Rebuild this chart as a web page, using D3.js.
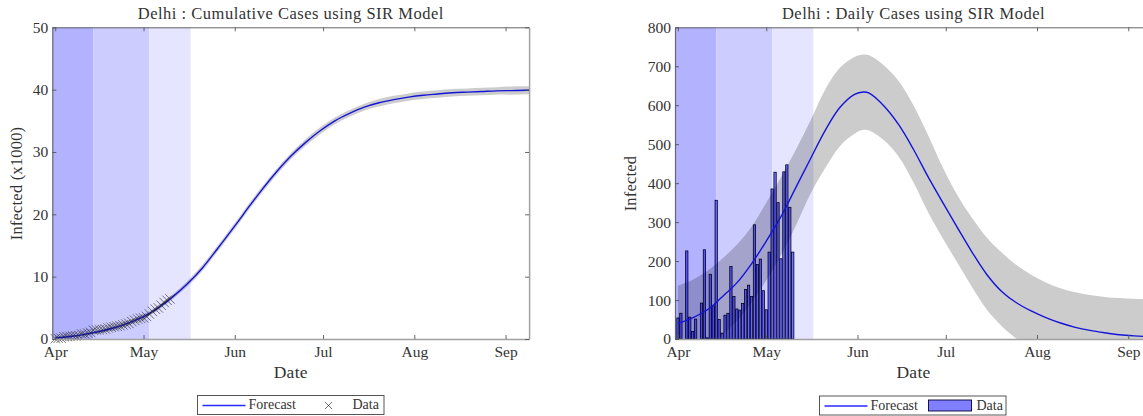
<!DOCTYPE html>
<html>
<head>
<meta charset="utf-8">
<script src="https://cdn.jsdelivr.net/npm/d3@7"></script>
<style>
  html, body { margin: 0; padding: 0; background: #fff; overflow: hidden; }
  svg text { font-family: "Liberation Serif", serif; fill: #333; }
</style>
</head>
<body>
<svg id="chart" width="1143" height="416"></svg>
<script>
// Days counted from Apr 1
const forecastDays = [0, 5, 10, 15, 20, 25, 30, 35, 40, 45, 50, 55, 60, 63, 65, 70, 75, 80, 85, 90, 95, 100, 105, 110, 115, 120, 125, 130, 135, 140, 145, 150, 155, 160, 165];
const dataDays = d3.range(0, 40);

// Daily forecast and 95% band
const dailyForecast = [40, 54, 75, 108, 144, 193, 251, 314, 388, 462, 535, 594, 628, 634, 631, 598, 550, 487, 416, 350, 285, 222, 165, 122, 93, 72, 55, 41, 30, 22, 16, 11, 8, 6, 5];
const dailyUpper = [137, 152, 175, 206, 242, 288, 350, 415, 485, 560, 640, 696, 724, 730, 728, 702, 662, 600, 523, 440, 368, 310, 260, 222, 190, 165, 145, 130, 120, 113, 108, 105, 103, 102, 101];
const dailyLower = [-57, -44, -25, 10, 46, 93, 150, 214, 290, 372, 438, 495, 527, 537, 535, 510, 468, 402, 325, 258, 195, 132, 75, 33, 1, -25, -45, -60, -70, -78, -84, -88, -90, -92, -93];
const dailyData = [54, 66, 0, 226, 56, 19, 51, 0, 92, 229, 3, 166, 85, 356, 50, 15, 61, 66, 186, 109, 77, 74, 91, 127, 138, 109, 293, 191, 205, 124, 75, 223, 385, 428, 350, 206, 429, 447, 338, 223];

// Cumulative forecast (x1000)
const cumForecast = [0.15, 0.4, 0.75, 1.2, 1.8, 2.6, 3.6, 5.0, 6.8, 8.9, 11.4, 14.4, 17.5, 19.4, 20.7, 23.8, 26.7, 29.3, 31.5, 33.4, 35.0, 36.2, 37.2, 37.9, 38.4, 38.8, 39.1, 39.3, 39.5, 39.6, 39.7, 39.8, 39.85, 39.9, 39.9];
const cumUpper = [0.3, 0.6, 0.95, 1.45, 2.1, 2.95, 3.95, 5.4, 7.2, 9.35, 11.9, 14.9, 18, 19.9, 21.2, 24.3, 27.2, 29.8, 32.05, 33.95, 35.55, 36.75, 37.75, 38.5, 39, 39.4, 39.7, 39.9, 40.1, 40.2, 40.3, 40.4, 40.5, 40.55, 40.55];
const cumLower = [0, 0.2, 0.55, 0.95, 1.5, 2.25, 3.25, 4.6, 6.4, 8.45, 10.9, 13.9, 17, 18.9, 20.2, 23.3, 26.2, 28.8, 30.95, 32.85, 34.45, 35.65, 36.65, 37.3, 37.8, 38.2, 38.5, 38.7, 38.9, 39, 39.1, 39.2, 39.2, 39.25, 39.25];
const cumData = [0.05, 0.12, 0.12, 0.35, 0.4, 0.42, 0.47, 0.47, 0.56, 0.79, 0.8, 0.96, 1.05, 1.4, 1.45, 1.47, 1.53, 1.6, 1.78, 1.89, 1.97, 2.04, 2.13, 2.26, 2.4, 2.51, 2.8, 2.99, 3.2, 3.32, 3.39, 3.62, 4.0, 4.43, 4.78, 4.99, 5.42, 5.86, 6.2, 6.42];

// Shaded training windows, days from Apr 1
const phaseEdges = [-1, 13, 32, 46];
const phaseColors = ["#b2b2ff", "#ccccff", "#e5e5ff"];

const monthTicks = [0, 30, 61, 91, 122, 153];
const cumTicks = [0, 10, 20, 30, 40, 50];
const dailyTicks = [0, 100, 200, 300, 400, 500, 600, 700, 800];

const startDate = Date.UTC(2020, 3, 1);
const toDate = (d) => d3.utcDay.offset(new Date(startDate), d);

const svg = d3.select("#chart");
const plotTop = 27.3;
const plotBottom = 339;

function drawPanel(opts) {
  const x = d3.scaleUtc()
    .domain([toDate(-1), toDate(161)])
    .range([opts.left, opts.left + 476.8]);
  const y = d3.scaleLinear().domain(opts.yDomain).range([plotBottom, plotTop]);

  const clipId = "clip" + Math.round(opts.left);
  svg.append("clipPath").attr("id", clipId)
    .append("rect")
    .attr("x", opts.left).attr("y", plotTop)
    .attr("width", 476.8).attr("height", plotBottom - plotTop);

  const plot = svg.append("g").attr("clip-path", `url(#${clipId})`);

  // Phase shading
  phaseColors.forEach((c, i) => {
    plot.append("rect")
      .attr("x", x(toDate(phaseEdges[i])))
      .attr("y", plotTop)
      .attr("width", x(toDate(phaseEdges[i + 1])) - x(toDate(phaseEdges[i])))
      .attr("height", plotBottom - plotTop)
      .attr("fill", c);
  });

  // Confidence band
  const area = d3.area()
    .x((d, i) => x(toDate(forecastDays[i])))
    .y0((d, i) => y(opts.lower[i]))
    .y1((d, i) => y(opts.upper[i]))
    .curve(d3.curveCatmullRom.alpha(0.5));
  plot.append("path")
    .attr("d", area(opts.forecast))
    .attr("fill", "#000")
    .attr("fill-opacity", 0.2);

  if (opts.bars) {
    const w = (x(toDate(1)) - x(toDate(0))) * 0.78;
    plot.selectAll(".bar")
      .data(opts.bars)
      .enter()
      .append("rect")
      .attr("class", "bar")
      .attr("x", (d, i) => x(toDate(dataDays[i])) - w / 2)
      .attr("y", (d) => y(d))
      .attr("width", w)
      .attr("height", (d) => y(0) - y(d))
      .attr("fill", "#0000ff")
      .attr("fill-opacity", 0.5)
      .attr("stroke", "#000022")
      .attr("stroke-width", 0.8);
  }

  const line = d3.line()
    .x((d, i) => x(toDate(forecastDays[i])))
    .y((d) => y(d))
    .curve(d3.curveCatmullRom.alpha(0.5));
  plot.append("path")
    .attr("d", line(opts.forecast))
    .attr("fill", "none")
    .attr("stroke", "#1414d8")
    .attr("stroke-width", 1.4);

  if (opts.crosses) {
    const cross = d3.symbol(d3.symbolTimes, 60);
    svg.append("g").selectAll("path")
      .data(opts.crosses)
      .enter()
      .append("path")
      .attr("d", cross)
      .attr("transform", (d, i) => `translate(${x(toDate(dataDays[i]))},${y(d)})`)
      .attr("fill", "none")
      .attr("stroke", "#222")
      .attr("stroke-width", 0.6);
  }

  // Box axes with inward ticks
  const tickDates = monthTicks.map(toDate);
  const xBottom = svg.append("g")
    .attr("transform", `translate(0,${plotBottom})`)
    .call(d3.axisBottom(x).tickValues(tickDates).tickFormat(d3.utcFormat("%b")).tickSizeInner(-4).tickSizeOuter(0).tickPadding(7));
  const xTop = svg.append("g")
    .attr("transform", `translate(0,${plotTop})`)
    .call(d3.axisTop(x).tickValues(tickDates).tickFormat("").tickSizeInner(-4).tickSizeOuter(0));
  const yLeft = svg.append("g")
    .attr("transform", `translate(${opts.left},0)`)
    .call(d3.axisLeft(y).tickValues(opts.yTicks).tickSizeInner(-4).tickSizeOuter(0).tickPadding(4));
  const yRight = svg.append("g")
    .attr("transform", `translate(${opts.left + 476.8},0)`)
    .call(d3.axisRight(y).tickValues(opts.yTicks).tickFormat("").tickSizeInner(-4).tickSizeOuter(0));

  [xBottom, xTop, yLeft, yRight].forEach((g) => {
    g.selectAll("line").attr("stroke", "#555").attr("stroke-width", 0.9);
    g.selectAll("text").attr("font-size", 15.5).attr("fill", "#333").attr("font-family", "Liberation Serif");
  });
  xTop.select(".domain").attr("stroke", "#555").attr("stroke-width", 0.9);
  yLeft.select(".domain").attr("stroke", "#667").attr("stroke-width", 1.2);
  xBottom.select(".domain").attr("stroke", "#a0a0a0").attr("stroke-width", 1.6);
  yRight.select(".domain").attr("stroke", "#a0a0a0").attr("stroke-width", 1.5);

  // Titles
  svg.append("text")
    .attr("x", opts.left + 238.5).attr("y", 18.5)
    .attr("text-anchor", "middle").attr("font-size", 16.5)
    .attr("letter-spacing", 0.5)
    .text(opts.title);
  svg.append("text")
    .attr("x", opts.left + 238.5).attr("y", 378)
    .attr("text-anchor", "middle").attr("font-size", 17.5)
    .attr("letter-spacing", 0.3)
    .text("Date");
  svg.append("text")
    .attr("transform", `translate(${opts.labelX},183.5) rotate(-90)`)
    .attr("text-anchor", "middle").attr("font-size", 16.5)
    .attr("letter-spacing", 0.2)
    .text(opts.yLabel);
}

function drawLegend(lx, ly, w, h, crosses) {
  const g = svg.append("g").attr("transform", `translate(${lx},${ly})`);
  g.append("rect")
    .attr("width", w).attr("height", h)
    .attr("fill", "#fff").attr("stroke", "#444").attr("stroke-width", 0.9);
  g.append("line")
    .attr("x1", 5).attr("x2", 48)
    .attr("y1", h / 2 + 0.5).attr("y2", h / 2 + 0.5)
    .attr("stroke", "#2a2aff").attr("stroke-width", 1.5);
  g.append("text").attr("x", 51).attr("y", h / 2 + 4)
    .attr("font-size", 14).text("Forecast");
  if (crosses) {
    g.append("path")
      .attr("d", d3.symbol(d3.symbolTimes, 34))
      .attr("transform", `translate(131,${h / 2 + 0.5})`)
      .attr("fill", "none").attr("stroke", "#111").attr("stroke-width", 0.6);
    g.append("text").attr("x", 155).attr("y", h / 2 + 4)
      .attr("font-size", 14).text("Data");
  } else {
    g.append("rect")
      .attr("x", 109).attr("y", 4)
      .attr("width", 43).attr("height", 11)
      .attr("fill", "#7f7fff").attr("stroke", "#000033").attr("stroke-width", 0.9);
    g.append("text").attr("x", 157).attr("y", h / 2 + 4)
      .attr("font-size", 14).text("Data");
  }
}

drawPanel({
  left: 52.3,
  title: "Delhi : Cumulative Cases using SIR Model",
  yLabel: "Infected (x1000)",
  labelX: 22,
  yDomain: [0, 50],
  yTicks: cumTicks,
  forecast: cumForecast,
  upper: cumUpper,
  lower: cumLower,
  crosses: cumData
});

drawPanel({
  left: 675,
  title: "Delhi : Daily Cases using SIR Model",
  yLabel: "Infected",
  labelX: 636,
  yDomain: [0, 800],
  yTicks: dailyTicks,
  forecast: dailyForecast,
  upper: dailyUpper,
  lower: dailyLower,
  bars: dailyData
});

drawLegend(197.5, 395.5, 186.5, 19, true);
drawLegend(819.5, 396, 186.5, 19, false);
</script>
</body>
</html>
